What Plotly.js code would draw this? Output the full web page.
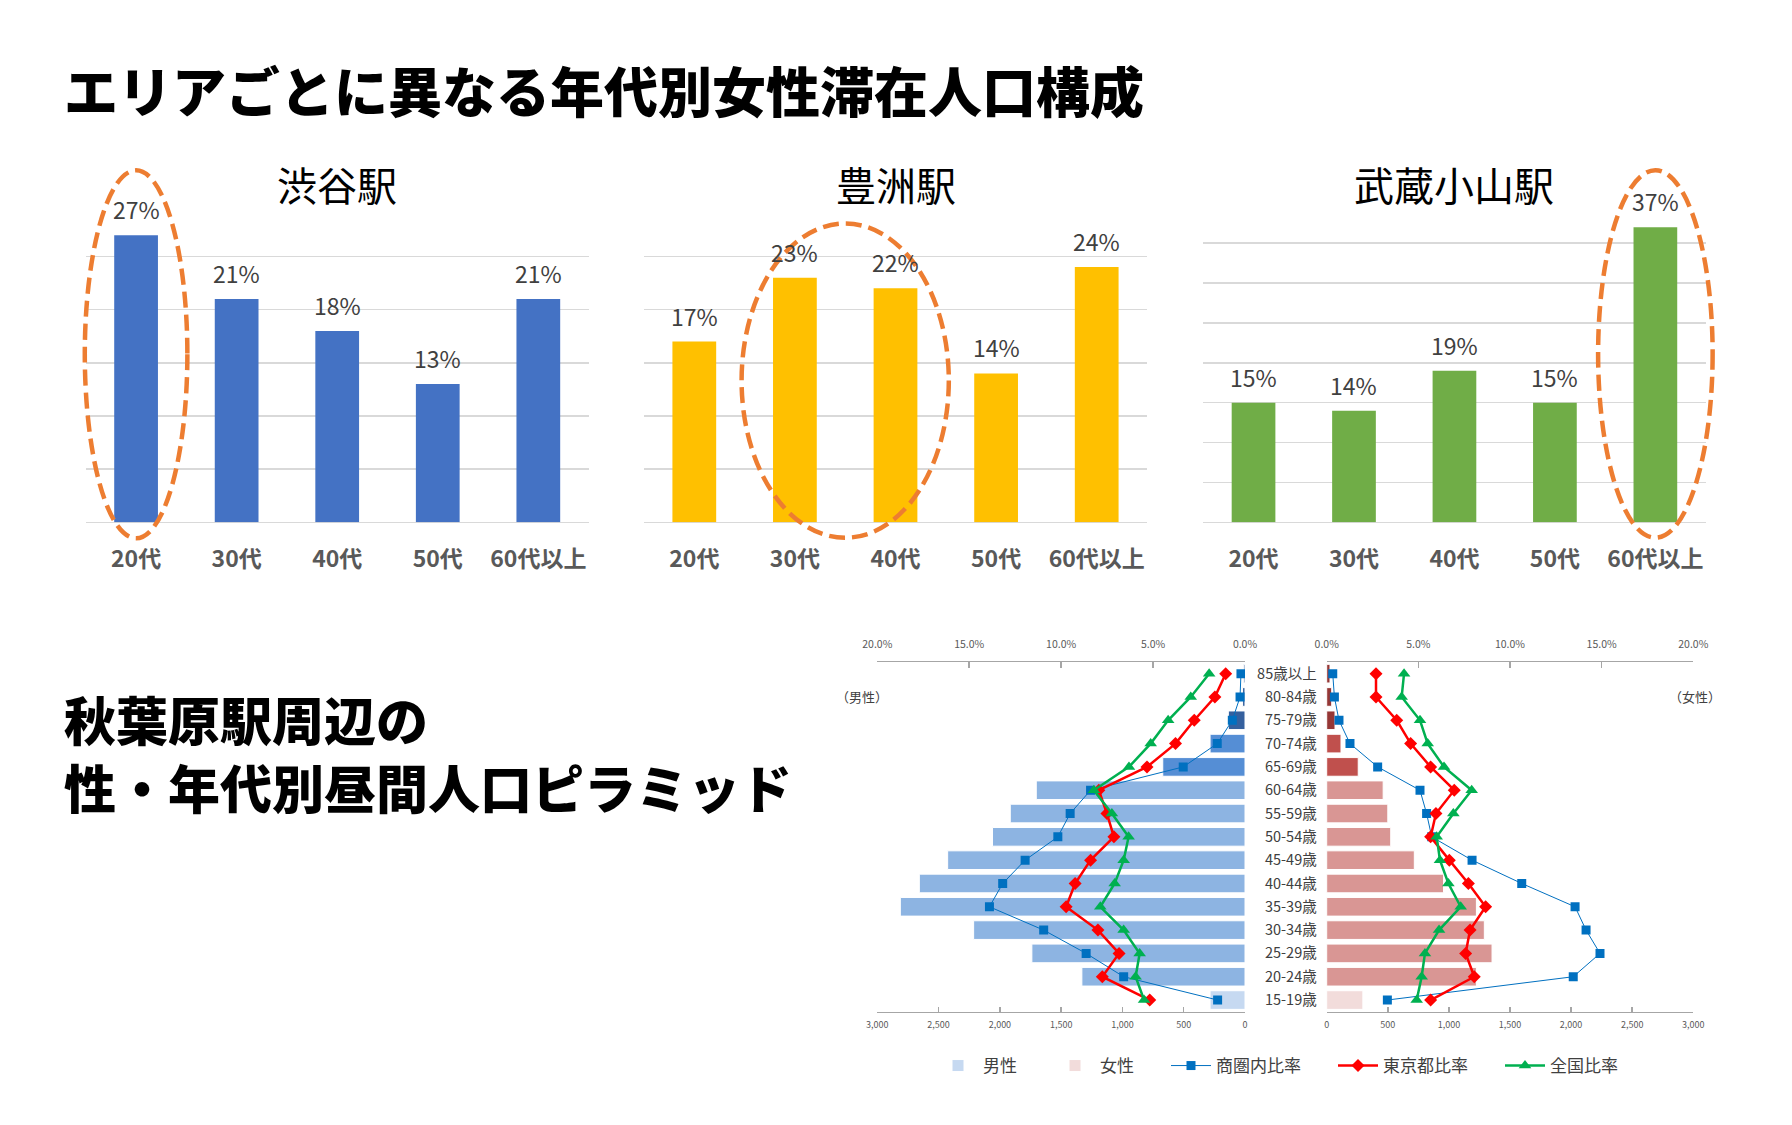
<!DOCTYPE html>
<html>
<head>
<meta charset="utf-8">
<script src="https://cdn.plot.ly/plotly-3.0.1.min.js"></script>
<style>html,body{margin:0;padding:0;background:#fff}#chart{width:1792px;height:1125px}</style>
</head>
<body>
<div id="chart"></div>
<script>
// ---------- DATA ----------
const mainTitle = 'エリアごとに異なる年代別女性滞在人口構成';
const subTitleLines = ['秋葉原駅周辺の', '性・年代別昼間人口ピラミッド'];

const ageGroups = ['20代', '30代', '40代', '50代', '60代以上'];
const shibuyaName = '渋谷駅';
const shibuyaPct = [27, 21, 18, 13, 21];
const shibuyaHighlight = ['20代'];
const toyosuName = '豊洲駅';
const toyosuPct = [17, 23, 22, 14, 24];
const toyosuHighlight = ['30代', '40代'];
const musashiName = '武蔵小山駅';
const musashiPct = [15, 14, 19, 15, 37];
const musashiHighlight = ['60代以上'];

const ages = ['15-19歳', '20-24歳', '25-29歳', '30-34歳', '35-39歳', '40-44歳', '45-49歳',
  '50-54歳', '55-59歳', '60-64歳', '65-69歳', '70-74歳', '75-79歳', '80-84歳', '85歳以上'];
const maleCount = [285, 1331, 1739, 2214, 2812, 2657, 2426, 2060, 1915, 1703, 671, 285, 136, 20, 10];
const femaleCount = [296, 1225, 1353, 1290, 1225, 956, 717, 524, 500, 462, 258, 117, 68, 41, 27];
const maleArea = [1.49, 6.6, 8.64, 10.95, 13.9, 13.18, 11.96, 10.18, 9.51, 8.4, 3.36, 1.51, 0.69, 0.27, 0.22];
const maleTokyo = [5.18, 7.76, 6.85, 8.0, 9.73, 9.24, 8.4, 7.13, 7.51, 7.95, 5.33, 3.78, 2.76, 1.64, 1.05];
const maleNational = [5.49, 5.95, 5.73, 6.6, 7.87, 7.09, 6.6, 6.33, 7.24, 8.22, 6.31, 5.13, 4.18, 2.95, 1.95];
const femaleArea = [3.31, 13.45, 14.91, 14.15, 13.55, 10.64, 7.93, 5.73, 5.45, 5.09, 2.78, 1.27, 0.67, 0.42, 0.33];
const femaleTokyo = [5.67, 8.05, 7.58, 7.82, 8.67, 7.73, 6.69, 5.67, 5.96, 6.96, 5.67, 4.58, 3.82, 2.69, 2.69];
const femaleNational = [4.91, 5.18, 5.36, 6.13, 7.31, 6.64, 6.18, 6.0, 6.91, 7.91, 6.4, 5.51, 5.09, 4.09, 4.22];
const countTicks = [0, 500, 1000, 1500, 2000, 2500, 3000];
const pctTicks = [0, 5, 10, 15, 20];
const pctTickLabels = ['0.0%', '5.0%', '10.0%', '15.0%', '20.0%'];
const seriesNames = ['男性', '女性', '商圏内比率', '東京都比率', '全国比率'];
const sexLabels = ['（男性）', '（女性）'];

// ---------- STYLE ----------
const W = 1792, H = 1125;
const X = p => p / W;
const Y = p => 1 - p / H;
const JP = 'Noto Sans CJK JP, Noto Sans, sans-serif';
const maleColors = ['#C6D9F1', '#8DB4E2', '#8DB4E2', '#8DB4E2', '#8DB4E2', '#8DB4E2', '#8DB4E2', '#8DB4E2', '#8DB4E2', '#8DB4E2', '#558ED5', '#558ED5', '#35609E', '#35609E', '#35609E'];
const femaleColors = ['#F2DCDB', '#D99694', '#D99694', '#D99694', '#D99694', '#D99694', '#D99694', '#D99694', '#D99694', '#D99694', '#C0504D', '#C0504D', '#953735', '#953735', '#953735'];

const barCharts = [
  {name: shibuyaName, vals: shibuyaPct, hl: shibuyaHighlight, color: '#4472C4', dom: [X(85.8), X(588.6)], ymax: 30, pad: 0.01, ylo: -1.5, yhi: 33.1},
  {name: toyosuName, vals: toyosuPct, hl: toyosuHighlight, color: '#FFC000', dom: [X(644), X(1147)], ymax: 30, pad: 0.03, ylo: -1.45, yhi: 28.1},
  {name: musashiName, vals: musashiPct, hl: musashiHighlight, color: '#70AD47', dom: [X(1203.3), X(1705.6)], ymax: 40, pad: 0.07, ylo: -1.93, yhi: 44.15}
];
const barYDom = [Y(522.3), Y(203.3)];
const pyrYDom = [Y(1011.7), Y(662)];
const pyrLeftDom = [X(877.3), X(1245)];
const pyrRightDom = [X(1326.7), X(1693.3)];

const traces = [];
const legendFont = {size: 17, color: '#404040', family: JP};
const layout = {
  width: W, height: H,
  margin: {l: 0, r: 0, t: 0, b: 0, autoexpand: false},
  paper_bgcolor: '#fff', plot_bgcolor: 'rgba(0,0,0,0)',
  hovermode: false,
  font: {family: JP, color: '#404040'},
  showlegend: true,
  legend: {orientation: 'h', x: X(933), xanchor: 'left', y: Y(1066), yanchor: 'middle',
    font: legendFont, itemwidth: 40, entrywidth: 62, traceorder: 'normal', bgcolor: 'rgba(0,0,0,0)'},
  legend2: {orientation: 'h', x: X(1166), xanchor: 'left', y: Y(1066), yanchor: 'middle',
    font: legendFont, itemwidth: 40, entrywidth: 112, traceorder: 'normal', bgcolor: 'rgba(0,0,0,0)'},
  annotations: [], shapes: []
};

barCharts.forEach((c, i) => {
  const k = i === 0 ? '' : String(i + 1);
  traces.push({type: 'bar', x: ageGroups, y: c.vals, xaxis: 'x' + k, yaxis: 'y' + k,
    width: 0.435, marker: {color: c.color}, showlegend: false, hoverinfo: 'skip'});
  layout['xaxis' + k] = {domain: c.dom, anchor: 'y' + k, type: 'category', categoryarray: ageGroups,
    range: [-0.5, ageGroups.length - 0.5], showgrid: false, showline: false, zeroline: false, ticks: '',
    tickfont: {size: 23, color: '#595959', family: JP, weight: 'bold'}, ticklabelstandoff: 21, fixedrange: true};
  layout['yaxis' + k] = {domain: barYDom, anchor: 'x' + k, range: [0, c.ymax], dtick: 5,
    showgrid: true, gridcolor: '#D9D9D9', gridwidth: 1.5, zeroline: true, zerolinecolor: '#D9D9D9', zerolinewidth: 1.5,
    showticklabels: false, ticks: '', showline: false, fixedrange: true};
  layout.annotations.push({xref: 'paper', yref: 'paper', x: (c.dom[0] + c.dom[1]) / 2, y: Y(184),
    xanchor: 'center', yanchor: 'middle', showarrow: false, text: c.name,
    font: {size: 40, color: '#000', family: JP}});
  ageGroups.forEach((g, j) => {
    layout.annotations.push({xref: 'x' + k, yref: 'y' + k, x: g, y: c.vals[j], yshift: 26,
      xanchor: 'center', yanchor: 'middle', showarrow: false, text: c.vals[j] + '%',
      font: {size: 23, color: '#404040', family: JP}});
  });
  const idx = c.hl.map(h => ageGroups.indexOf(h));
  const cen = idx.reduce((a, b) => a + b, 0) / idx.length;
  const hw = idx.length / 2 + c.pad;
  const n = ageGroups.length;
  layout.shapes.push({type: 'circle', xref: 'x' + k + ' domain', yref: 'y' + k + ' domain',
    x0: (cen - hw + 0.5) / n, x1: (cen + hw + 0.5) / n, y0: c.ylo / c.ymax, y1: c.yhi / c.ymax,
    line: {color: '#ED7D31', width: 4.5, dash: '16px,7px'}, layer: 'above'});
});

// ---------- Pyramid ----------
const lineSpecs = [
  {name: seriesNames[2], m: maleArea, f: femaleArea, color: '#0070C0', w: 1, sym: 'square', size: 9},
  {name: seriesNames[3], m: maleTokyo, f: femaleTokyo, color: '#FF0000', w: 2.5, sym: 'diamond', size: 10},
  {name: seriesNames[4], m: maleNational, f: femaleNational, color: '#00B050', w: 2.5, sym: 'triangle-up', size: 11}
];
traces.push({type: 'bar', orientation: 'h', y: ages, x: maleCount, xaxis: 'x4', yaxis: 'y4', width: 0.8,
  name: seriesNames[0], legend: 'legend', marker: {color: maleColors, line: {color: '#fff', width: 1}}, hoverinfo: 'skip'});
traces.push({type: 'bar', orientation: 'h', y: ages, x: femaleCount, xaxis: 'x6', yaxis: 'y5', width: 0.8,
  name: seriesNames[1], legend: 'legend', marker: {color: femaleColors, line: {color: '#fff', width: 1}}, hoverinfo: 'skip'});
lineSpecs.forEach(s => {
  traces.push({type: 'scatter', mode: 'lines+markers', y: ages, x: s.m, xaxis: 'x5', yaxis: 'y4',
    name: s.name, legend: 'legend2', legendgroup: s.name, line: {color: s.color, width: s.w},
    marker: {symbol: s.sym, size: s.size, color: s.color}, hoverinfo: 'skip'});
  traces.push({type: 'scatter', mode: 'lines+markers', y: ages, x: s.f, xaxis: 'x7', yaxis: 'y5',
    name: s.name, legend: 'legend2', legendgroup: s.name, showlegend: false, line: {color: s.color, width: s.w},
    marker: {symbol: s.sym, size: s.size, color: s.color}, hoverinfo: 'skip'});
});

const countAxis = (dom, anchor, rng) => ({domain: dom, anchor: anchor, range: rng, side: 'bottom',
  tickvals: countTicks, tickformat: ',d', showline: true, linecolor: '#A6A6A6', linewidth: 1.5,
  ticks: 'inside', ticklen: 5, tickcolor: '#A6A6A6', tickwidth: 1.5, showgrid: false, zeroline: false,
  tickfont: {size: 9, color: '#595959', family: JP}, ticklabelstandoff: 4, fixedrange: true});
const pctAxis = (dom, anchor, over, rng) => ({domain: dom, anchor: anchor, overlaying: over, side: 'top', range: rng,
  tickmode: 'array', tickvals: pctTicks, ticktext: pctTickLabels, showline: true, linecolor: '#A6A6A6', linewidth: 1.5,
  ticks: 'inside', ticklen: 6, tickcolor: '#A6A6A6', tickwidth: 1.5, showgrid: false, zeroline: false,
  tickfont: {size: 10.5, color: '#595959', family: JP}, ticklabelstandoff: 8, fixedrange: true});
layout.xaxis4 = countAxis(pyrLeftDom, 'y4', [3000, 0]);
layout.xaxis5 = pctAxis(pyrLeftDom, 'y4', 'x4', [20, 0]);
layout.xaxis6 = countAxis(pyrRightDom, 'y5', [0, 3000]);
layout.xaxis7 = pctAxis(pyrRightDom, 'y5', 'x6', [0, 20]);
layout.yaxis4 = {domain: pyrYDom, anchor: 'x4', type: 'category', categoryarray: ages, range: [-0.5, ages.length - 0.5],
  showticklabels: false, showgrid: false, showline: false, zeroline: false, ticks: '', fixedrange: true};
layout.yaxis5 = {domain: pyrYDom, anchor: 'x6', type: 'category', categoryarray: ages, range: [-0.5, ages.length - 0.5],
  showticklabels: true, side: 'left', showgrid: false, showline: false, zeroline: false, ticks: '',
  tickfont: {size: 14.5, color: '#404040', family: JP}, ticklabelstandoff: 9, fixedrange: true};

layout.annotations.push({xref: 'paper', yref: 'paper', x: X(862), y: Y(696), xanchor: 'center', yanchor: 'middle',
  showarrow: false, text: sexLabels[0], font: {size: 13, color: '#404040', family: JP}});
layout.annotations.push({xref: 'paper', yref: 'paper', x: X(1695), y: Y(696), xanchor: 'center', yanchor: 'middle',
  showarrow: false, text: sexLabels[1], font: {size: 13, color: '#404040', family: JP}});

// ---------- Titles ----------
layout.annotations.push({xref: 'paper', yref: 'paper', x: X(62), y: Y(89), xanchor: 'left', yanchor: 'middle',
  showarrow: false, text: mainTitle, font: {size: 54, color: '#000', family: JP, weight: 900}});
layout.annotations.push({xref: 'paper', yref: 'paper', x: X(62), y: Y(752), xanchor: 'left', yanchor: 'middle',
  align: 'left', showarrow: false, text: subTitleLines.join('<br>'), font: {size: 52, color: '#000', family: JP, weight: 900}});

Plotly.newPlot('chart', traces, layout, {staticPlot: true, displayModeBar: false});
</script>
</body>
</html>
